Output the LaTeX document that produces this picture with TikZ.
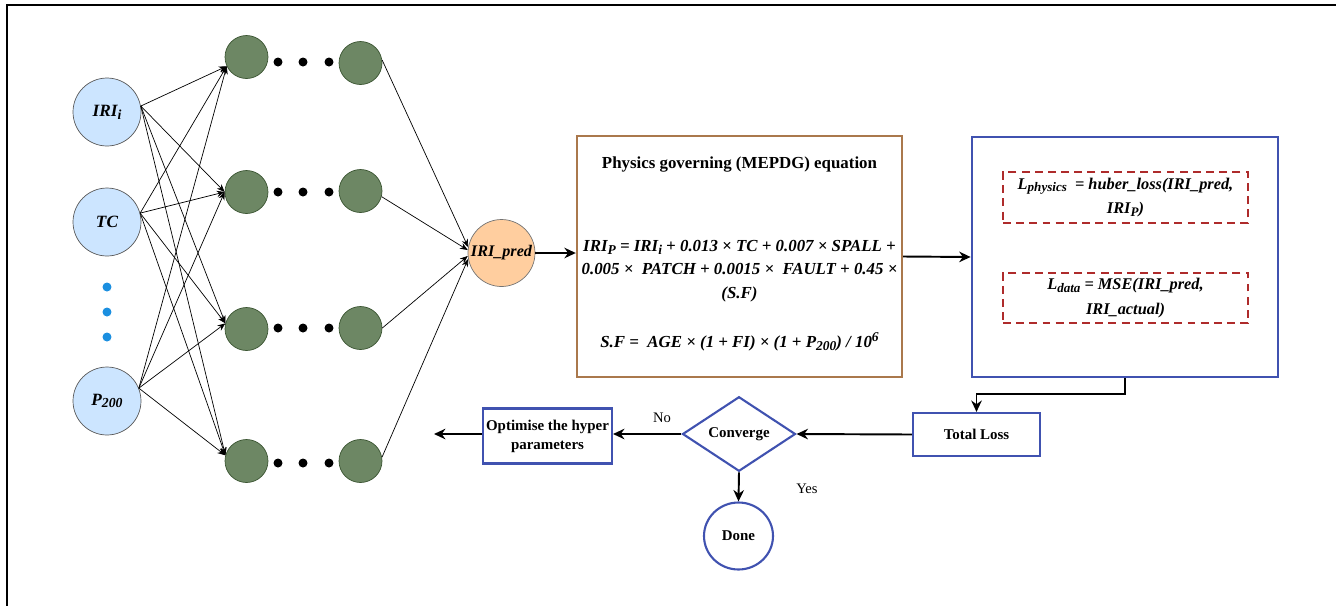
\documentclass[tikz,border=0pt]{standalone}
\usepackage{fontspec}
\setmainfont{Liberation Serif}
\usetikzlibrary{arrows.meta,shapes.geometric}

\definecolor{inblue}{RGB}{204,229,255}
\definecolor{dotblue}{RGB}{27,143,224}
\definecolor{hidgreen}{RGB}{109,135,100}
\definecolor{hidedge}{RGB}{58,84,49}
\definecolor{predorange}{RGB}{255,206,159}
\definecolor{physbrown}{RGB}{170,120,76}
\definecolor{flowblue}{RGB}{64,82,176}
\definecolor{lossred}{RGB}{174,43,43}

% larger sub- and superscripts, as in the drawing
\newcommand{\lsub}[1]{\raisebox{-0.35ex}{\scalebox{0.8}{#1}}}
\newcommand{\lsup}[1]{\raisebox{0.75ex}{\scalebox{0.8}{#1}}}

\tikzset{
  inputnode/.style={circle,draw=black!65,fill=inblue,minimum size=1.36cm,inner sep=0pt,
    font=\fontsize{9.8}{10}\selectfont\bfseries\itshape},
  hidnode/.style={circle,draw=hidedge,fill=hidgreen,minimum size=0.86cm,inner sep=0pt},
  prednode/.style={circle,draw=black!55,fill=predorange,minimum size=1.34cm,inner sep=0pt,
    font=\fontsize{9.2}{10}\selectfont\bfseries\itshape},
  physbox/.style={rectangle,draw=physbrown,line width=1.4pt,minimum width=6.5cm,minimum height=4.82cm},
  lossbox/.style={rectangle,draw=flowblue,line width=1.6pt,minimum width=6.12cm,minimum height=4.8cm},
  dashbox/.style={rectangle,draw=lossred,line width=1.2pt,dash pattern=on 4.5pt off 3pt,
    minimum width=4.9cm,minimum height=1.01cm,align=center,inner sep=0pt,
    font=\fontsize{9.3}{14}\selectfont\bfseries\itshape},
  flowbox/.style={rectangle,draw=flowblue,line width=1.2pt,align=center,inner sep=0pt,
    font=\fontsize{8.5}{10.8}\selectfont\bfseries},
  titletext/.style={font=\fontsize{9.6}{11}\selectfont\bfseries},
  eqtext/.style={align=center,font=\fontsize{9.6}{13.3}\selectfont\bfseries\itshape},
  lbltext/.style={font=\fontsize{8.3}{10}\selectfont},
  thinarrow/.style={-{Stealth[length=4.5pt,width=3.6pt]},line width=0.4pt},
  thickarrow/.style={-{Stealth[length=6.5pt,width=6pt]},line width=1.1pt}
}

\begin{document}
\begin{tikzpicture}[x=0.02cm,y=-0.02cm]
\useasboundingbox (0,0) rectangle (1336,606);
\draw[line width=1.1pt] (1336,5) -- (7,5) -- (7,606);

% input layer
\node[inputnode] (in1) at (107,112) {IRI\lsub{i}};
\node[inputnode] (in2) at (107,222) {TC};
\node[inputnode] (in3) at (107,401) {P\lsub{200}};
\foreach \y in {287,312,337}
  \fill[dotblue] (107,\y) circle (0.09cm);

% hidden layers
\foreach \r/\yl/\yr/\yd in {1/57/63/62,2/192/191/192,3/329/328/328,4/461/461/463} {
  \node[hidnode] (hL\r) at (246.5,\yl) {};
  \node[hidnode] (hR\r) at (360.5,\yr) {};
  \foreach \x in {278,303,329}
    \fill (\x,\yd) circle (0.09cm);
}

\node[prednode] (pred) at (501.5,253) {IRI\_pred};

\foreach \i/\a in {1/10,2/15,3/22}
  \foreach \h/\b in {1/205,2/180,3/165,4/165}
    \draw[thinarrow] (in\i.\a) -- (hL\h.\b);
\foreach \h/\b/\c in {1/8/170,2/-15/175,3/0/185,4/10/190}
  \draw[thinarrow] (hR\h.\b) -- (pred.\c);

% physics box
\node[physbox] (phys) at (739.5,256.5) {};
\node[titletext] (ptitle) at (739.5,165) {Physics governing (MEPDG) equation};
\node[eqtext] (peq) at (739.5,271) {IRI\lsub{P} = IRI\lsub{i} + 0.013 × TC + 0.007 × SPALL +\\
  0.005 × \ PATCH + 0.0015 × \ FAULT + 0.45 ×\\(S.F)};
\node[eqtext] (psf) at (739.5,342) {S.F = \ AGE × (1 + FI) × (1 + P\lsub{200}) / 10\lsup{6}};

% loss box
\node[lossbox] (loss) at (1125,257) {};
\node[dashbox] (lphys) at (1125.5,197.5) {L\lsub{physics} \ = huber\_loss(IRI\_pred,\\IRI\lsub{P})};
\node[dashbox] (ldata) at (1125.5,298) {L\lsub{data} = MSE(IRI\_pred,\\IRI\_actual)};

% training loop
\node[flowbox,minimum width=2.54cm,minimum height=0.86cm] (total) at (976.5,434.5) {Total Loss};
\node[flowbox,diamond,minimum width=2.26cm,minimum height=1.36cm] (conv) at (739,434) {Converge};
\node[flowbox,minimum width=2.58cm,minimum height=1.1cm] (opt) at (547.5,436) {Optimise the hyper\\parameters};
\node[flowbox,ellipse,minimum width=1.38cm,minimum height=1.34cm] (done) at (738.5,536) {Done};
\coordinate (back) at (434,434);
\node[lbltext] (no) at (662,418) {No};
\node[lbltext] (yes) at (807,489) {Yes};

\draw[thickarrow] (pred) -- (pred -| phys.west);
\draw[thickarrow] (phys.east) -- (loss.west);
\draw[thickarrow] (loss.south) -- ++(0,16) -| (total.north);
\draw[thickarrow] (total.west) -- (conv.east);
\draw[thickarrow] (conv.west) -- (conv.west -| opt.east);
\draw[thickarrow] (opt.west |- back) -- (back);
\draw[thickarrow] (conv.south) -- (done.north);
\end{tikzpicture}
\end{document}
